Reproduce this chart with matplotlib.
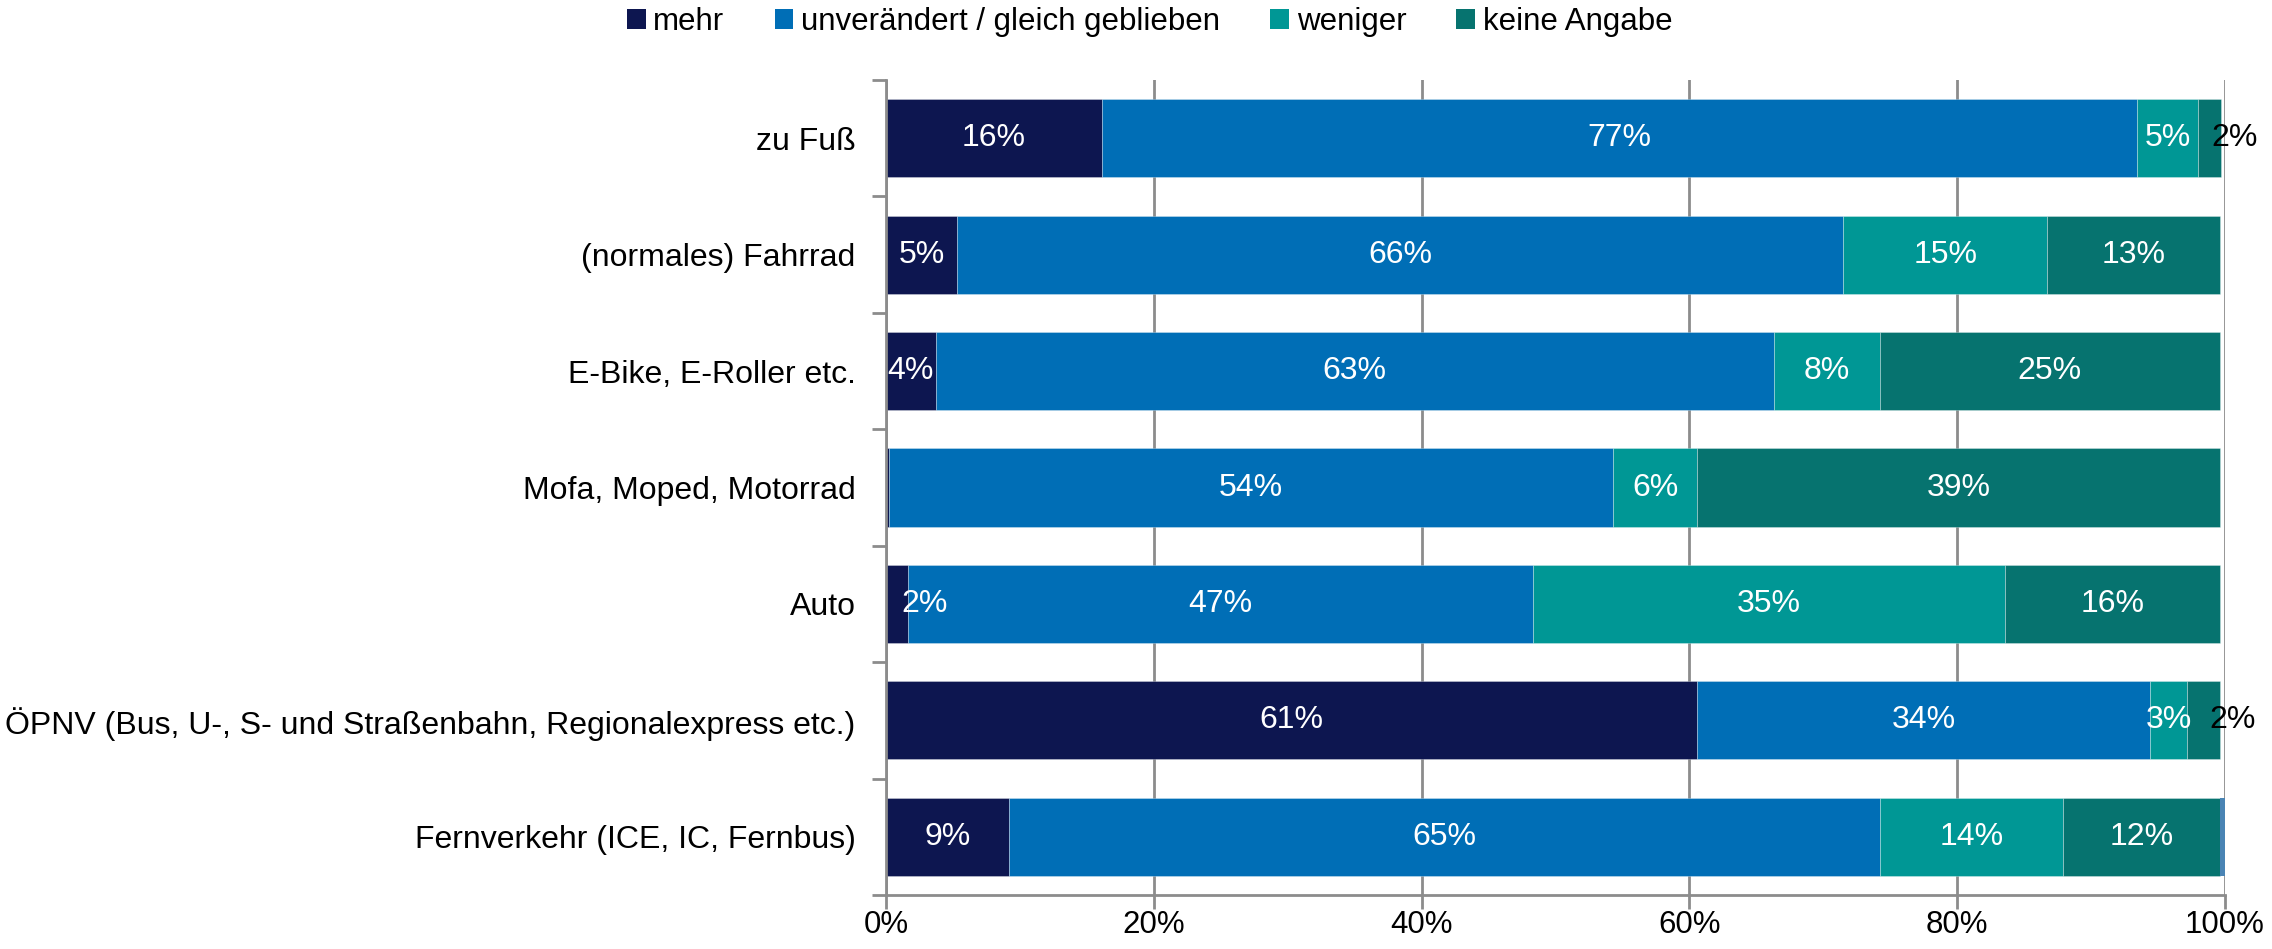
import matplotlib
matplotlib.use("Agg")
import matplotlib.pyplot as plt
from matplotlib.patches import Patch
from matplotlib.ticker import FixedLocator, PercentFormatter

# data (percent)
categories = [
    "zu Fuß",
    "(normales) Fahrrad",
    "E-Bike, E-Roller etc.",
    "Mofa, Moped, Motorrad",
    "Auto",
    "ÖPNV (Bus, U-, S- und Straßenbahn, Regionalexpress etc.)",
    "Fernverkehr (ICE, IC, Fernbus)",
]
series = ["mehr", "unverändert / gleich geblieben", "weniger", "keine Angabe"]
mehr = [16.1, 5.3, 3.7, 0.2, 1.6, 60.6, 9.2]
unveraendert = [77.3, 66.2, 62.6, 54.1, 46.7, 33.8, 65.0]
weniger = [4.6, 15.2, 7.9, 6.3, 35.3, 2.8, 13.7]
keine_angabe = [1.7, 12.9, 25.4, 39.0, 16.0, 2.4, 11.7]
rest = [0, 0, 0, 0, 0, 0, 0.4]  # small unlabeled remainder in the last bar

colors = ["#0d1650", "#006eb6", "#009795", "#06736f"]
rest_color = "#4a84b4"

plt.rcParams["font.family"] = ["Liberation Sans", "DejaVu Sans"]
grey = "#8c8c8c"

fig = plt.figure(figsize=(22.72, 9.49), dpi=100)
ax = fig.add_axes([0.390, 0.0569, 0.5893, 0.8588])

y = list(range(len(categories)))
left = [0.0] * len(categories)
for name, vals, col in zip(series, [mehr, unveraendert, weniger, keine_angabe], colors):
    ax.barh(y, vals, left=left, height=0.67, color=col,
            edgecolor=(1, 1, 1, 0.35), linewidth=0.6, zorder=2, label=name)
    for i, v in enumerate(vals):
        if v >= 1:
            cx = left[i] + v / 2
            c = "white"
            if name == "mehr" and v < 2.5:
                cx = max(cx, 2.85)
            if name == "keine Angabe" and v < 3:
                cx = left[i] + v + 1.0
                c = "black"
            ax.text(cx, i, f"{v:.0f}%", ha="center", va="center",
                    color=c, fontsize=23, zorder=3)
    left = [a + b for a, b in zip(left, vals)]
ax.barh(y, rest, left=left, height=0.67, color=rest_color, linewidth=0, zorder=2)

ax.set_xlim(0, 100)
ax.set_ylim(len(categories) - 0.5, -0.5)
ax.xaxis.set_major_locator(FixedLocator([0, 20, 40, 60, 80, 100]))
ax.xaxis.set_major_formatter(PercentFormatter(decimals=0))
ax.grid(axis="x", color=grey, linewidth=2, zorder=0)
ax.set_axisbelow(True)

ax.set_yticks(y)
ax.set_yticklabels(categories, fontsize=23)
ax.yaxis.set_minor_locator(FixedLocator([i - 0.5 for i in range(len(categories) + 1)]))
ax.tick_params(axis="y", which="major", length=0, pad=22)
ax.tick_params(axis="y", which="minor", length=10, width=2, color=grey)
ax.tick_params(axis="x", length=10, width=2, color=grey, labelsize=22.5, pad=1)

for s in ["top", "right"]:
    ax.spines[s].set_visible(False)
for s in ["left", "bottom"]:
    ax.spines[s].set_color(grey)
    ax.spines[s].set_linewidth(2)

handles = [Patch(facecolor=c, edgecolor="none") for c in colors]
fig.legend(handles, series, loc="center", bbox_to_anchor=(0.506, 0.977), ncol=4,
           frameon=False, handlelength=0.6, handleheight=0.6, handletextpad=0.25,
           columnspacing=1.6, prop={"size": 22.5})

fig.savefig("out.png", dpi=100)
